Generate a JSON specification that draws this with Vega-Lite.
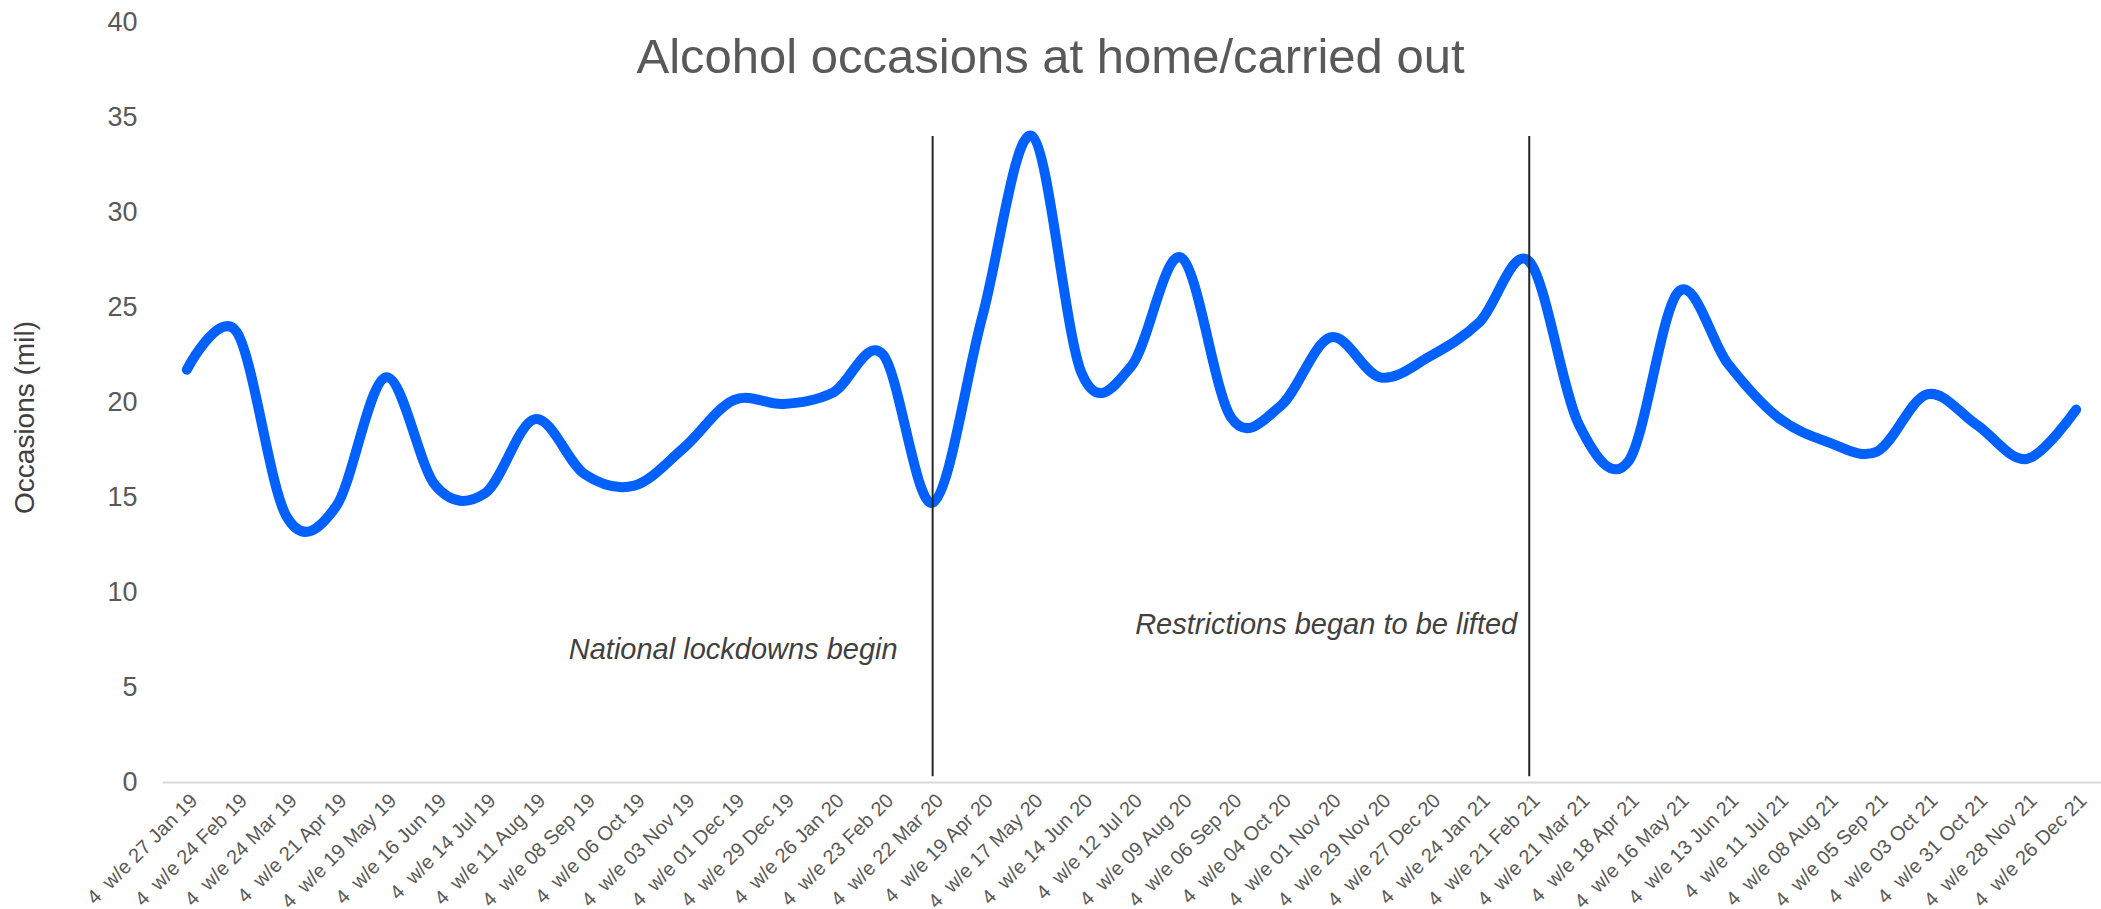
{
  "$schema": "https://vega.github.io/schema/vega-lite/v6.json",
  "width": 1939,
  "height": 760,
  "autosize": {"type": "none"},
  "padding": {"left": 162, "top": 22, "right": 0, "bottom": 127},
  "background": "white",
  "config": {"view": {"stroke": null}, "font": "Liberation Sans"},
  "title": {
    "text": "Alcohol occasions at home/carried out",
    "fontSize": 49,
    "font": "Liberation Sans",
    "fontWeight": "normal",
    "color": "#595959",
    "anchor": "middle",
    "frame": "group",
    "dx": -81,
    "offset": -114,
    "baseline": "alphabetic"
  },
  "datasets": {
    "series": [
      {"period": "4\u00a0\u00a0w/e 27 Jan 19", "occasions": 21.7},
      {"period": "4\u00a0\u00a0w/e 24 Feb 19", "occasions": 23.7},
      {"period": "4\u00a0\u00a0w/e 24 Mar 19", "occasions": 14.0},
      {"period": "4\u00a0\u00a0w/e 21 Apr 19", "occasions": 14.5},
      {"period": "4\u00a0\u00a0w/e 19 May 19", "occasions": 21.3},
      {"period": "4\u00a0\u00a0w/e 16 Jun 19", "occasions": 15.6},
      {"period": "4\u00a0\u00a0w/e 14 Jul 19", "occasions": 15.2},
      {"period": "4\u00a0\u00a0w/e 11 Aug 19", "occasions": 19.1},
      {"period": "4\u00a0\u00a0w/e 08 Sep 19", "occasions": 16.2},
      {"period": "4\u00a0\u00a0w/e 06 Oct 19", "occasions": 15.6},
      {"period": "4\u00a0\u00a0w/e 03 Nov 19", "occasions": 17.6},
      {"period": "4\u00a0\u00a0w/e 01 Dec 19", "occasions": 20.1},
      {"period": "4\u00a0\u00a0w/e 29 Dec 19", "occasions": 19.9},
      {"period": "4\u00a0\u00a0w/e 26 Jan 20", "occasions": 20.5},
      {"period": "4\u00a0\u00a0w/e 23 Feb 20", "occasions": 22.5},
      {"period": "4\u00a0\u00a0w/e 22 Mar 20", "occasions": 14.7},
      {"period": "4\u00a0\u00a0w/e 19 Apr 20", "occasions": 24.5},
      {"period": "4\u00a0\u00a0w/e 17 May 20", "occasions": 34.0},
      {"period": "4\u00a0\u00a0w/e 14 Jun 20", "occasions": 21.5},
      {"period": "4\u00a0\u00a0w/e 12 Jul 20", "occasions": 21.9},
      {"period": "4\u00a0\u00a0w/e 09 Aug 20", "occasions": 27.6},
      {"period": "4\u00a0\u00a0w/e 06 Sep 20", "occasions": 19.2},
      {"period": "4\u00a0\u00a0w/e 04 Oct 20", "occasions": 19.8},
      {"period": "4\u00a0\u00a0w/e 01 Nov 20", "occasions": 23.4},
      {"period": "4\u00a0\u00a0w/e 29 Nov 20", "occasions": 21.3},
      {"period": "4\u00a0\u00a0w/e 27 Dec 20", "occasions": 22.4},
      {"period": "4\u00a0\u00a0w/e 24 Jan 21", "occasions": 24.2},
      {"period": "4\u00a0\u00a0w/e 21 Feb 21", "occasions": 27.4},
      {"period": "4\u00a0\u00a0w/e 21 Mar 21", "occasions": 18.8},
      {"period": "4\u00a0\u00a0w/e 18 Apr 21", "occasions": 16.9},
      {"period": "4\u00a0\u00a0w/e 16 May 21", "occasions": 25.8},
      {"period": "4\u00a0\u00a0w/e 13 Jun 21", "occasions": 22.0},
      {"period": "4\u00a0\u00a0w/e 11 Jul 21", "occasions": 19.2},
      {"period": "4\u00a0\u00a0w/e 08 Aug 21", "occasions": 17.9},
      {"period": "4\u00a0\u00a0w/e 05 Sep 21", "occasions": 17.4},
      {"period": "4\u00a0\u00a0w/e 03 Oct 21", "occasions": 20.4},
      {"period": "4\u00a0\u00a0w/e 31 Oct 21", "occasions": 18.8},
      {"period": "4\u00a0\u00a0w/e 28 Nov 21", "occasions": 17.0},
      {"period": "4\u00a0\u00a0w/e 26 Dec 21", "occasions": 19.6}
    ],
    "events": [
      {"event": "lockdown", "period": "4\u00a0\u00a0w/e 22 Mar 20", "low": 0.3, "high": 34, "labelY": 6.5, "note": "National lockdowns begin"},
      {"event": "lifted", "period": "4\u00a0\u00a0w/e 21 Feb 21", "low": 0.3, "high": 34, "labelY": 7.8, "note": "Restrictions began to be lifted"}
    ]
  },
  "layer": [
    {
      "data": {"name": "series"},
      "mark": {"type": "line", "interpolate": "cardinal", "color": "#0061FE", "strokeWidth": 10, "strokeCap": "round", "strokeJoin": "round"},
      "encoding": {
        "x": {
          "field": "period",
          "type": "ordinal",
          "sort": null,
          "scale": {"type": "point", "padding": 0.5},
          "axis": {
            "title": null,
            "domain": true,
            "domainColor": "#D9D9D9",
            "domainWidth": 2,
            "ticks": false,
            "grid": false,
            "labelAngle": -45,
            "labelFontSize": 20,
            "labelColor": "#595959",
            "labelPadding": 8,
            "labelOverlap": false
          }
        },
        "y": {
          "field": "occasions",
          "type": "quantitative",
          "scale": {"domain": [0, 40]},
          "axis": {
            "values": [0, 5, 10, 15, 20, 25, 30, 35, 40],
            "domain": false,
            "ticks": false,
            "grid": false,
            "labelFontSize": 27,
            "labelColor": "#595959",
            "labelPadding": 25,
            "title": "Occasions (mil)",
            "titleFontSize": 28,
            "titleFontWeight": "normal",
            "titleColor": "#404040",
            "titleAngle": -90,
            "titleAlign": "center",
            "titleBaseline": "middle",
            "titleX": -137,
            "titleY": 395
          }
        }
      }
    },
    {
      "data": {"name": "events"},
      "mark": {"type": "rule", "color": "#262626", "strokeWidth": 2},
      "encoding": {
        "x": {"field": "period", "type": "ordinal", "sort": null},
        "y": {"field": "low", "type": "quantitative"},
        "y2": {"field": "high"}
      }
    },
    {
      "data": {"name": "events"},
      "transform": [{"filter": "datum.event === 'lockdown'"}],
      "mark": {"type": "text", "align": "right", "baseline": "alphabetic", "fontStyle": "italic", "fontSize": 29, "color": "#404040", "dx": -35},
      "encoding": {
        "x": {"field": "period", "type": "ordinal", "sort": null},
        "y": {"field": "labelY", "type": "quantitative"},
        "text": {"field": "note"}
      }
    },
    {
      "data": {"name": "events"},
      "transform": [{"filter": "datum.event === 'lifted'"}],
      "mark": {"type": "text", "align": "right", "baseline": "alphabetic", "fontStyle": "italic", "fontSize": 29, "color": "#404040", "dx": -12},
      "encoding": {
        "x": {"field": "period", "type": "ordinal", "sort": null},
        "y": {"field": "labelY", "type": "quantitative"},
        "text": {"field": "note"}
      }
    }
  ]
}
